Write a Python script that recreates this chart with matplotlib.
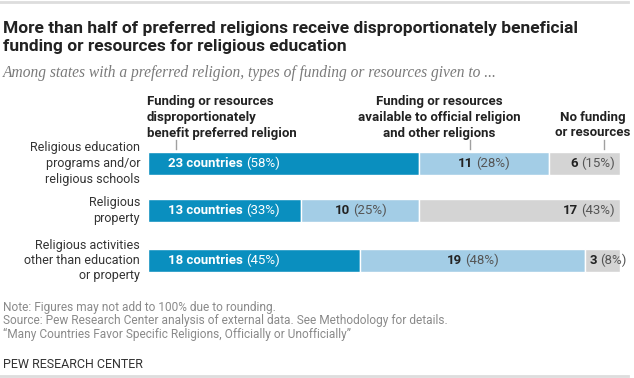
import matplotlib
matplotlib.use("agg")
import matplotlib.pyplot as plt
from matplotlib.transforms import IdentityTransform
from matplotlib.lines import Line2D

W, H = 634, 378

categories = ["Religious education\nprograms and/or\nreligious schools",
              "Religious\nproperty",
              "Religious activities\nother than education\nor property"]
disproportionate = [23, 13, 18]
available_all = [11, 10, 19]
no_funding = [6, 17, 3]
pct_disprop = [58, 33, 45]
pct_avail = [28, 25, 48]
pct_none = [15, 43, 8]
total_states = 40

headers = [["Funding or resources", "disproportionately", "benefit preferred religion"],
           ["Funding or resources", "available to official religion", "and other religions"],
           ["No funding", "or resources"]]

DARK = "#0a8fbf"
LIGHT = "#a3cde6"
GRAY = "#d4d4d4"

plt.rcParams["font.family"] = ["Roboto", "DejaVu Sans"]

fig = plt.figure(figsize=(W / 100, H / 100), dpi=100)
ident = IdentityTransform()


def ftext(x, y, s, **kw):
    # x,y in pixels measured from top-left
    return fig.text(x, H - y, s, transform=ident, **kw)


# bars live in an axes whose y axis runs in pixel rows
ax = fig.add_axes([148 / W, 1 - 280 / H, 472 / W, 140 / H])
ax.set_xlim(0, total_states)
ax.set_ylim(280, 140)
ax.axis("off")

row_y = [163.5, 210.5, 260.5]
left2 = [a for a in disproportionate]
left3 = [a + b for a, b in zip(disproportionate, available_all)]
ax.barh(row_y, disproportionate, height=23, color=DARK, edgecolor="white", linewidth=1)
ax.barh(row_y, available_all, left=left2, height=23, color=LIGHT, edgecolor="white", linewidth=1)
ax.barh(row_y, no_funding, left=left3, height=23, color=GRAY, edgecolor="white", linewidth=1)

fig.canvas.draw()
rend = fig.canvas.get_renderer()


def to_px(xv, yv):
    dx, dy = ax.transData.transform((xv, yv))
    return dx, H - dy


def two_part(x, y, bold, rest, c1, c2, ha="left", size=9.5):
    t1 = ftext(0, y, bold, fontweight="bold", color=c1, fontsize=size, va="center")
    t2 = ftext(0, y, rest, color=c2, fontsize=size, va="center")
    w1 = t1.get_window_extent(rend).width
    w2 = t2.get_window_extent(rend).width
    gap = 3
    tot = w1 + gap + w2
    if ha == "left":
        x0 = x
    elif ha == "center":
        x0 = x - tot / 2
    else:
        x0 = x - tot
    t1.set_position((x0, H - y))
    t2.set_position((x0 + w1 + gap, H - y))


for i, yv in enumerate(row_y):
    x0, yc = to_px(0, yv)
    two_part(x0 + 20, yc, f"{disproportionate[i]} countries", f"({pct_disprop[i]}%)",
             "white", "white")
    xa, _ = to_px(left2[i], yv)
    xb, _ = to_px(left3[i], yv)
    two_part((xa + xb) / 2, yc, str(available_all[i]), f"({pct_avail[i]}%)",
             "#222222", "#555555", ha="center")
    xe, _ = to_px(total_states, yv)
    if xe - xb > 50:
        two_part(xe - 5, yc, str(no_funding[i]), f"({pct_none[i]}%)",
                 "#222222", "#555555", ha="right")
    else:
        two_part(xb + 5, yc, str(no_funding[i]), f"({pct_none[i]}%)",
                 "#222222", "#555555", ha="left")
    ftext(140, yc, categories[i], ha="right", va="center", multialignment="right",
          fontsize=9, color="#333333", linespacing=1.25)

# column headers
hdr_y = [101, 117, 133]
HFS = 9.5
for j, ln in enumerate(headers[0]):
    ftext(147, hdr_y[j], ln, fontweight="bold", fontsize=HFS, color="#222222", va="center")
for j, ln in enumerate(headers[1]):
    ftext(439, hdr_y[j], ln, fontweight="bold", fontsize=HFS, color="#222222",
          va="center", ha="center")
for j, ln in enumerate(headers[2]):
    ftext(593, hdr_y[j + 1], ln, fontweight="bold", fontsize=HFS, color="#222222",
          va="center", ha="center")
for tx in (176, 470, 604):
    fig.add_artist(Line2D([tx, tx], [H - 140, H - 149], transform=ident,
                          color="#a0a0a0", lw=1))

# title block
ftext(3, 28, "More than half of preferred religions receive disproportionately beneficial",
      fontsize=12.5, fontweight="bold", color="#222222", va="center")
ftext(3, 47, "funding or resources for religious education",
      fontsize=12.5, fontweight="bold", color="#222222", va="center")
ftext(3, 73, "Among states with a preferred religion, types of funding or resources given to ...",
      fontsize=11.2, style="italic", color="#7a7a7a", va="center",
      family=["Liberation Serif", "DejaVu Serif"])

# notes
notes = ["Note: Figures may not add to 100% due to rounding.",
         "Source: Pew Research Center analysis of external data. See Methodology for details.",
         "\u201cMany Countries Favor Specific Religions, Officially or Unofficially\u201d"]
for k, ln in enumerate(notes):
    ftext(3, 307 + 13.5 * k, ln, fontsize=8.6, color="#8a8a8a", va="center")
ftext(3, 364, "PEW RESEARCH CENTER", fontsize=9, color="#333333", va="center")

for yy in (2, 376):
    fig.add_artist(Line2D([0, 628], [H - yy, H - yy], transform=ident,
                          color="#dddddd", lw=2))

fig.savefig("out.png", dpi=100)
